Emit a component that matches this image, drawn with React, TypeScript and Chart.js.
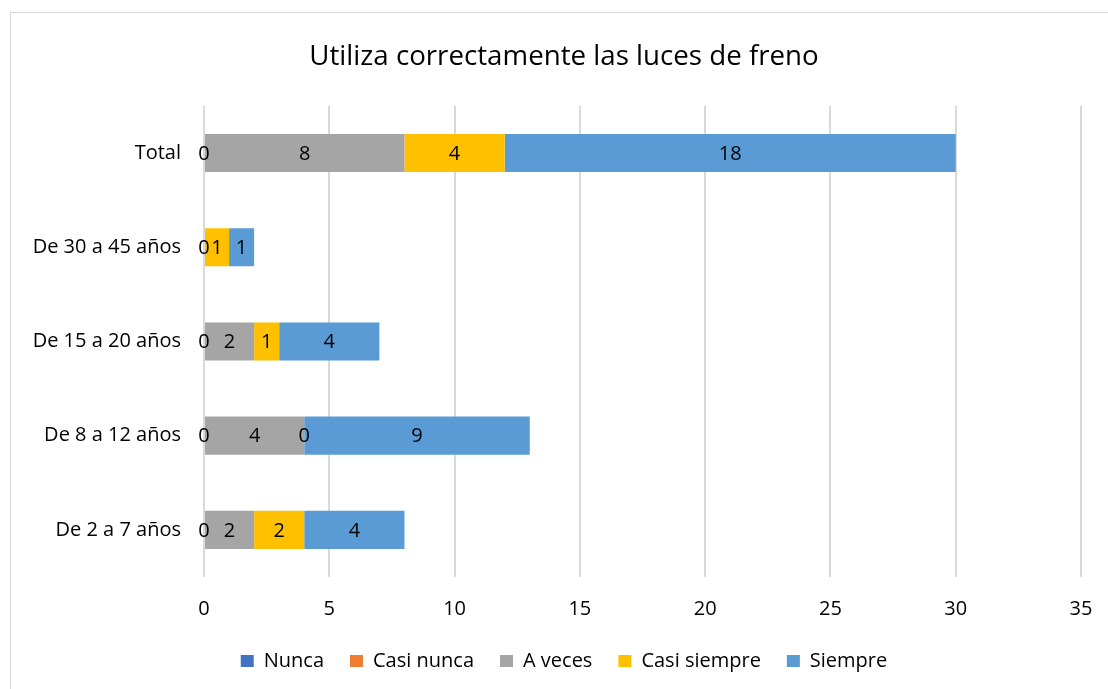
import React, { useEffect, useRef } from "react";
import { Chart, registerables } from "chart.js";

Chart.register(...registerables);

const TITLE = "Utiliza correctamente las luces de freno";
const categories = ["Total", "De 30 a 45 años", "De 15 a 20 años", "De 8 a 12 años", "De 2 a 7 años"];
const seriesNames = ["Nunca", "Casi nunca", "A veces", "Casi siempre", "Siempre"];
const nunca = [0, 0, 0, 0, 0];
const casiNunca = [null, null, null, null, null];
const aVeces = [8, 0, 2, 4, 2];
const casiSiempre = [4, 1, 1, 0, 2];
const siempre = [18, 1, 4, 9, 4];
const xTicks = [0, 5, 10, 15, 20, 25, 30, 35];
const seriesColors = ["#4472C4", "#ED7D31", "#A5A5A5", "#FFC000", "#5B9BD5"];

const FONT = "'Open Sans', 'Noto Sans', sans-serif";

const dataLabelPlugin = {
  id: "barValueLabels",
  afterDatasetsDraw(chart: any) {
    const ctx = chart.ctx;
    const seen = new Set<string>();
    ctx.save();
    ctx.font = `20px ${FONT}`;
    ctx.fillStyle = "#000000";
    ctx.textAlign = "center";
    ctx.textBaseline = "middle";
    chart.data.datasets.forEach((ds: any, di: number) => {
      const meta = chart.getDatasetMeta(di);
      if (meta.hidden) return;
      meta.data.forEach((el: any, i: number) => {
        const v = ds.data[i];
        if (v === null || v === undefined) return;
        const props = el.getProps(["x", "y", "base"], true);
        const cx = (props.x + props.base) / 2;
        const key = `${Math.round(cx)}_${Math.round(props.y)}_${v}`;
        if (seen.has(key)) return;
        seen.add(key);
        ctx.fillText(String(v), cx, props.y + 1);
      });
    });
    ctx.restore();
  },
};

export default function App() {
  const ref = useRef<HTMLCanvasElement | null>(null);

  useEffect(() => {
    if (!ref.current) return;
    const values = [nunca, casiNunca, aVeces, casiSiempre, siempre];
    const chart = new Chart(ref.current, {
      type: "bar",
      data: {
        labels: categories,
        datasets: seriesNames.map((name, i) => ({
          label: name,
          data: values[i] as any,
          backgroundColor: seriesColors[i],
          borderWidth: 0,
          categoryPercentage: 1,
          barPercentage: 0.404,
        })),
      },
      options: {
        indexAxis: "y",
        animation: false,
        responsive: true,
        maintainAspectRatio: false,
        layout: { padding: { left: 20, right: 0, top: 0, bottom: 8 } },
        scales: {
          x: {
            stacked: true,
            min: 0,
            max: 35,
            afterBuildTicks: (scale: any) => {
              scale.ticks = xTicks.map((v) => ({ value: v }));
            },
            afterFit: (scale: any) => {
              scale.height = 48;
              scale.paddingRight = 27;
            },
            grid: { color: "#d9d9d9", lineWidth: 2, drawTicks: false },
            border: { display: false },
            ticks: {
              padding: 20,
              color: "#000000",
              font: { family: FONT, size: 20 },
            },
          },
          y: {
            stacked: true,
            afterFit: (scale: any) => {
              scale.width = 184;
            },
            grid: { display: false, drawTicks: false },
            border: { display: false },
            ticks: {
              padding: 23,
              color: "#000000",
              font: { family: FONT, size: 20 },
            },
          },
        },
        plugins: {
          title: {
            display: true,
            text: TITLE,
            color: "#000000",
            font: { family: FONT, size: 27.7, weight: "normal" as any },
            padding: { top: 40, bottom: 32.6 },
          },
          legend: {
            position: "bottom",
            labels: {
              boxWidth: 13,
              boxHeight: 12,
              padding: 26,
              color: "#000000",
              font: { family: FONT, size: 20 },
            },
          },
          tooltip: { enabled: false },
        },
      },
      plugins: [dataLabelPlugin],
    });
    return () => chart.destroy();
  }, []);

  return (
    <>
      <div
        style={{
          position: "fixed",
          left: 10,
          top: 12,
          width: 1200,
          height: 800,
          border: "1px solid #d9d9d9",
          boxSizing: "border-box",
        }}
      />
      <div style={{ position: "fixed", left: 0, top: 0, width: 1108, height: 689 }}>
        <canvas ref={ref} />
      </div>
    </>
  );
}
